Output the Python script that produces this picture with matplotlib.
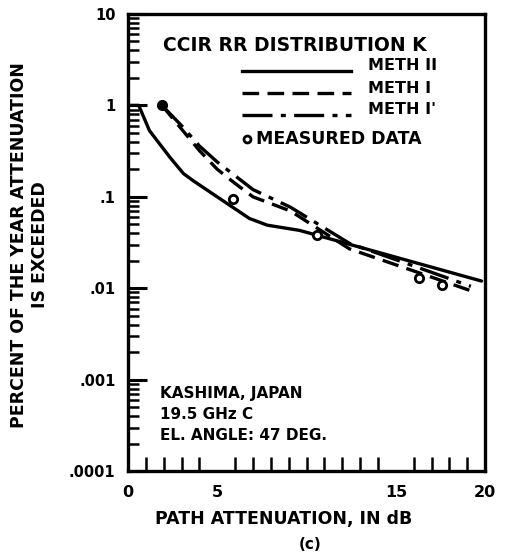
import numpy as np
import matplotlib.pyplot as plt
from matplotlib.ticker import FixedLocator, NullFormatter

plt.rcParams['font.family'] = ['DejaVu Sans']
plt.rcParams['font.weight'] = 'heavy'

# METH II (solid)
meth2_db = [0, 0.6, 1.2, 2.35, 3.1, 3.65, 6.8, 7.8, 9.6, 19.8]
meth2_p = [1.0, 1.0, 0.53, 0.27, 0.18, 0.15, 0.058, 0.049, 0.043, 0.012]

# METH I (dashed)
meth1_db = [1.9, 3.0, 4.0, 5.0, 6.0, 7.0, 9.1, 12.4, 16.2, 19.2]
meth1_p = [1.0, 0.55, 0.32, 0.2, 0.14, 0.1, 0.07, 0.027, 0.015, 0.0094]

# METH I' (dash-dot)
meth1p_db = [1.9, 3.0, 4.0, 5.0, 6.0, 7.0, 9.1, 12.4, 16.2, 19.2]
meth1p_p = [1.0, 0.6, 0.36, 0.24, 0.17, 0.12, 0.077, 0.031, 0.017, 0.0105]

# measured
meas_db = [1.9, 5.9, 10.6, 16.3, 17.6]
meas_p = [1.0, 0.094, 0.038, 0.013, 0.0108]

ytick_vals = [10, 1, 0.1, 0.01, 0.001, 0.0001]
ytick_text = ['10', '1', '.1', '.01', '.001', '.0001']
xtick_vals = [0, 5, 15, 20]

fig = plt.figure(figsize=(5.08, 5.57), dpi=100)
ax = fig.add_axes([0.252, 0.154, 0.703, 0.821])

lw = 2.4
ax.plot(meth2_db, meth2_p, color='black', lw=lw, solid_capstyle='round')
ax.plot(meth1_db, meth1_p, color='black', lw=lw, dashes=(5, 2.5))
ax.plot(meth1p_db, meth1p_p, color='black', lw=lw, dashes=(9, 2.5, 1.5, 2.5))
ax.plot(meas_db[:1], meas_p[:1], 'o', color='black', ms=7)
ax.plot(meas_db[1:], meas_p[1:], 'o', mfc='white', mec='black', mew=2, ms=6)

ax.set_yscale('log')
ax.set_xlim(0, 20)
ax.set_ylim(0.0001, 10)

ax.set_yticks(ytick_vals)
ax.set_yticklabels(ytick_text)
ax.yaxis.set_minor_locator(FixedLocator(
    [m * 10.0 ** e for e in range(-4, 1) for m in range(2, 10)]))
ax.yaxis.set_minor_formatter(NullFormatter())
ax.set_xticks(xtick_vals)
ax.set_xticks(range(1, 20), minor=True)

ax.tick_params(axis='y', which='major', direction='in', length=14, width=2.2,
               labelsize=10.5, pad=9, right=False)
ax.tick_params(axis='y', which='minor', direction='in', length=8, width=1.8,
               right=False)
ax.tick_params(axis='x', which='major', direction='in', length=0, width=2,
               labelsize=11.5, pad=10, top=False)
ax.tick_params(axis='x', which='minor', direction='in', length=10, width=1.8,
               top=False)
for s in ax.spines.values():
    s.set_linewidth(2.4)

fig.text(0.559, 0.068, 'PATH ATTENUATION, IN dB', ha='center', va='center',
         fontsize=12.5, fontweight='heavy')
fig.text(0.61, 0.022, '(c)', ha='center', va='center', fontsize=11,
         fontweight='heavy')
fig.text(0.058, 0.56, 'PERCENT OF THE YEAR ATTENUATION\nIS EXCEEDED',
         rotation=90, ha='center', va='center', fontsize=12.5,
         fontweight='heavy', linespacing=1.25)

ax.text(0.097, 0.93, 'CCIR RR DISTRIBUTION K', transform=ax.transAxes,
        fontsize=13.5, fontweight='heavy', va='center', ha='left')

# legend drawn by hand in axes coordinates
leg = [('METH II', dict()), ('METH I', dict(dashes=(5, 2.5))),
       ("METH I'", dict(dashes=(9, 2.5, 1.5, 2.5)))]
ys = [0.888, 0.838, 0.79]
for (name, kw), yy in zip(leg, ys):
    ax.plot([0.32, 0.625], [yy - 0.012, yy - 0.012], color='black', lw=lw,
            transform=ax.transAxes, **kw)
    ax.text(0.672, yy, name, transform=ax.transAxes, fontsize=11.5,
            fontweight='heavy', va='center', ha='left')
ax.plot([0.334], [0.727], 'o', mfc='white', mec='black', mew=2, ms=5,
        transform=ax.transAxes)
ax.text(0.358, 0.727, 'MEASURED DATA', transform=ax.transAxes, fontsize=12.5,
        fontweight='heavy', va='center', ha='left')

ax.text(0.09, 0.125, 'KASHIMA, JAPAN\n19.5 GHz C\nEL. ANGLE: 47 DEG.',
        transform=ax.transAxes, fontsize=11, fontweight='heavy',
        va='center', ha='left', linespacing=1.5)

fig.savefig('out.png', dpi=100)
